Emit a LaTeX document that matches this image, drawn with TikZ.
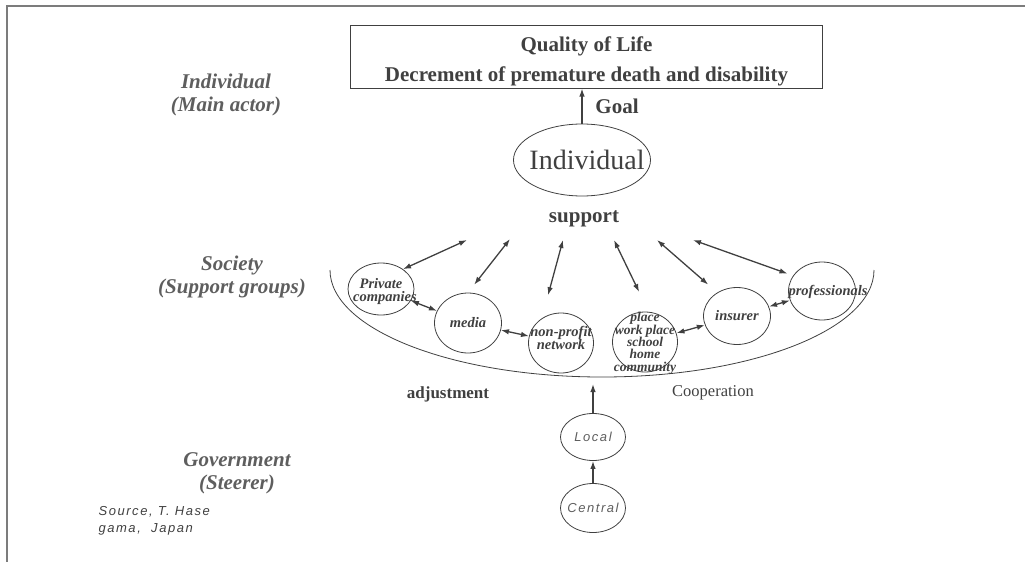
\documentclass[tikz,border=0pt]{standalone}
\usepackage{fontspec}
\setmainfont{Liberation Serif}
\newfontfamily\gothic[LetterSpace=12]{Liberation Sans}
\usepackage{xcolor}
\usepackage{tikz}
\usetikzlibrary{arrows.meta,shapes.geometric}
\definecolor{ink}{HTML}{404040}
\definecolor{softink}{HTML}{5E5E5E}
\definecolor{rulegray}{HTML}{7C7C7C}
\newcommand{\fixtext}[2][-5pt]{\raisebox{#1}[0pt][0pt]{\makebox[0pt]{\begin{tabular}{@{}c@{}}#2\end{tabular}}}}

\begin{document}
\begin{tikzpicture}[x=1pt,y=-1pt,>={Latex[length=8pt,width=5.5pt]},
  grp/.style={draw=ink,line width=0.8pt,ellipse,inner sep=0pt,text=ink,font=\fontsize{14.5}{11}\selectfont\bfseries\itshape},
  gov/.style={draw=ink,line width=0.8pt,ellipse,inner sep=0pt,minimum width=65pt,minimum height=48pt,text=softink,font=\gothic\itshape\fontsize{13}{13}\selectfont},
  side/.style={align=center,text=softink,font=\fontsize{21}{23}\selectfont\bfseries\itshape},
  lbl/.style={text=ink,font=\fontsize{21}{25}\selectfont\bfseries},
  dbl/.style={<->,draw=ink,line width=1.3pt},
  one/.style={->,draw=ink,line width=1.3pt}]
  \useasboundingbox (0,0) rectangle (1025,562);
  \draw[rulegray,line width=1.2pt] (7,562) -- (7,6) -- (1025,6);
  \node[draw=ink,line width=1pt,minimum width=472pt,minimum height=63pt,text=ink,font=\fontsize{21}{30}\selectfont\bfseries] (qol) at (586.5,56.5) {\fixtext[-9.5pt]{Quality of Life\\Decrement of premature death and disability}};
  \node[draw=ink,line width=0.8pt,ellipse,inner sep=0pt,minimum width=137pt,minimum height=72pt,text=ink,font=\fontsize{28}{30}\selectfont] (ind) at (582,160) {\makebox[0pt]{\hspace{10pt}Individual}};
  \draw[one] (ind.north) -- (ind.north |- qol.south);
  \node[lbl] (goal) at (617,106) {Goal};
  \node[lbl] (sup) at (584,219) {support};
  \node[side] (lind) at (226,95) {Individual\\(Main actor)};
  \node[side] (lsoc) at (232,277) {Society\\(Support groups)};
  \node[side] (lgov) at (237,473) {Government\\(Steerer)};
  \node[align=left,anchor=west,text=ink,font=\gothic\itshape\fontsize{13}{17.5}\selectfont] (src) at (95,521) {Source, T. Hase\\gama,\ \ Japan};
  \draw[ink,line width=0.8pt] (330,270) arc[start angle=180,end angle=0,x radius=272,y radius=107];
  \node[grp,minimum width=66pt,minimum height=52pt] (pc) at (381,289) {\fixtext[-6pt]{Private\\\hspace{8pt}companies}};
  \node[grp,minimum width=67pt,minimum height=60pt] (media) at (468,323) {\fixtext{media}};
  \node[grp,minimum width=65pt,minimum height=60pt] (np) at (561,343) {\fixtext[0pt]{non-profit\\network}};
  \node[grp,minimum width=65pt,minimum height=60pt,font=\fontsize{13.5}{10}\selectfont\bfseries\itshape] (place) at (645,342) {\fixtext{place\\work place\\school\\home\\community}};
  \node[grp,minimum width=67pt,minimum height=57pt] (ins) at (737,316) {\fixtext{insurer}};
  \node[grp,minimum width=67pt,minimum height=58pt] (prof) at (822,291) {\fixtext{\hspace{12pt}professionals}};
  \coordinate (s1) at (467,240);
  \coordinate (s2) at (510,239);
  \coordinate (s3) at (563,240);
  \coordinate (s4) at (614,240);
  \coordinate (s5) at (657,240);
  \coordinate (s6) at (693,240);
  \draw[dbl] (s1) -- (pc.42);
  \draw[dbl,shorten >=10pt] (s2) -- (media.90);
  \draw[dbl,shorten >=24pt] (s3) -- (np.128);
  \draw[dbl,shorten >=22pt] (s4) -- (place.83);
  \draw[dbl,shorten >=12pt] (s5) -- (ins.130);
  \draw[dbl,shorten >=6pt] (s6) -- (prof.152);
  \draw[dbl] (pc) -- (media);
  \draw[dbl] (media) -- (np);
  \draw[dbl] (place) -- (ins);
  \draw[dbl] (ins) -- (prof);
  \node[text=ink,font=\fontsize{17}{20}\selectfont\bfseries] (adj) at (448,394) {adjustment};
  \node[text=ink,font=\fontsize{16.5}{20}\selectfont] (coop) at (713,393) {Cooperation};
  \node[gov,minimum height=47pt] (local) at (593,437) {\makebox[0pt]{Local}};
  \node[gov,minimum height=49pt] (central) at (593,508) {\makebox[0pt]{Central}};
  \coordinate (gap) at (593,384);
  \draw[one] (local) -- (gap);
  \draw[one] (central) -- (local);
\end{tikzpicture}
\end{document}
